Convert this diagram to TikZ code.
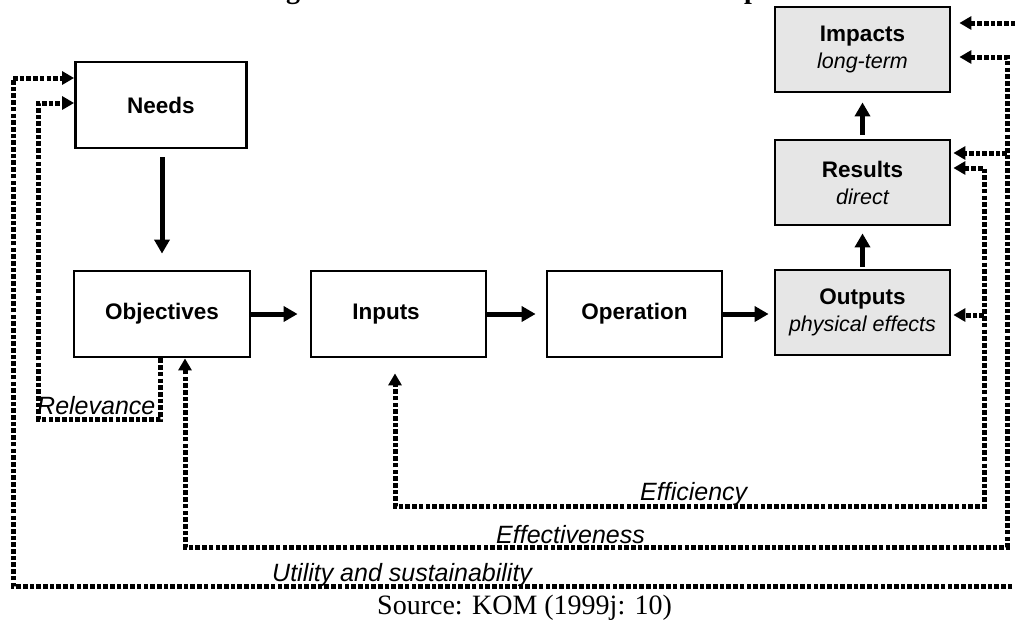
\documentclass[tikz,border=0pt]{standalone}
\usepackage{fontspec}
\setmainfont{Liberation Sans}
\newfontfamily\seriffont{Liberation Serif}
\usetikzlibrary{arrows.meta}
\definecolor{boxgray}{HTML}{E6E6E6}
\tikzset{
  box/.style={draw, line width=2.8pt, minimum width=175pt, minimum height=86pt,
    inner sep=0pt, align=center, font=\bfseries\fontsize{22.5}{27}\selectfont},
  gbox/.style={box, fill=boxgray, minimum height=85pt},
  lab/.style={inner sep=0pt, font=\itshape\fontsize{25}{30}\selectfont},
  src/.style={inner sep=0pt, font=\seriffont\fontsize{28}{30}\selectfont},
  frag/.style={inner sep=0pt, font=\seriffont\bfseries\fontsize{28}{30}\selectfont},
  solidarrow/.style={line width=5pt, -{Triangle[length=14pt,width=15pt]}},
  dotline/.style={line width=5pt, dash pattern=on 4.6pt off 2.1pt},
  dtipend/.style={-{Triangle[length=12pt,width=13pt]}},
  dtipboth/.style={{Triangle[length=12pt,width=13pt]}-{Triangle[length=12pt,width=13pt]}}
}
\newcommand{\subtxt}[1]{{\mdseries\itshape\fontsize{21.5}{25}\selectfont #1}}
\begin{document}
\begin{tikzpicture}[x=1pt,y=-1pt]
\useasboundingbox (0,0) rectangle (1015,622);

% title fragments (cut off by the page edge, as in the reference)
\node[frag, anchor=base] (tg) at (293,-2) {g};
\node[frag, anchor=base] (tp) at (752,-2) {p};

% boxes
\node[box, minimum width=171pt] (needs) at (161,105) {Needs};
\node[box, minimum width=176pt] (obj) at (162,314) {Objectives};
\node[box] (inp) at (398.5,314) {Inputs\hspace*{25pt}};
\node[box] (op) at (634.5,314) {Operation};
\node[gbox] (out) at (862.5,312.5) {Outputs\\\subtxt{physical effects}};
\node[gbox] (res) at (862.5,182.5) {Results\\\subtxt{direct}};
\node[gbox] (imp) at (862.5,49.5) {Impacts\\\subtxt{long-term}};

% solid arrows
\draw[solidarrow, shorten <=8pt, shorten >=16pt] (needs.south -| obj.north) -- (obj.north);
\draw[solidarrow, shorten >=12pt] (obj.east) -- (obj.east -| inp.west);
\draw[solidarrow, shorten >=10pt] (inp.east) -- (op.west);
\draw[solidarrow, shorten >=5pt] (op.east) -- (op.east -| out.west);
\draw[solidarrow, shorten <=2pt, shorten >=7pt] (out.north) -- (res.south);
\draw[solidarrow, shorten <=4pt, shorten >=9pt] (res.north) -- (imp.south);

% corner coordinates
\coordinate (uA) at (1035,23);
\coordinate (uB) at (1035,586);
\coordinate (uC) at (13,586);
\coordinate (uD) at (13,78);
\coordinate (eA) at (1007,57);
\coordinate (eB) at (1007,153);
\coordinate (eC) at (1007,547);
\coordinate (eD) at (185,547);
\coordinate (fA) at (984,168);
\coordinate (fB) at (984,315);
\coordinate (fC) at (984,506);
\coordinate (fD) at (395,506);
\coordinate (rA) at (160,419);
\coordinate (rB) at (38,419);
\coordinate (rC) at (38,103);

% Utility and sustainability
\draw[dotline, dtipboth, shorten <=8pt] (imp.east |- uA) -- (uA) -- (uB) -- (uC) -- (uD) -- (needs.west |- uD);
% Effectiveness
\draw[dotline, dtipboth, shorten <=8pt] (imp.east |- eA) -- (eA) -- (eC) -- (eD) -- (obj.south -| eD);
\draw[dotline, dtipend, shorten >=2pt] (eB) -- (res.east |- eB);
% Efficiency
\draw[dotline, dtipboth, shorten <=2pt, shorten >=15pt] (res.east |- fA) -- (fA) -- (fC) -- (fD) -- (inp.south -| fD);
\draw[dotline, dtipend, shorten >=2pt] (fB) -- (out.east |- fB);
% Relevance
\draw[dotline, dtipend] (obj.south -| rA) -- (rA) -- (rB) -- (rC) -- (needs.west |- rC);

% labels
\node[lab, anchor=base west] (relL) at (37,414) {Relevance};
\node[lab, anchor=base west] (effL) at (640,500) {Efficiency};
\node[lab, anchor=base west] (efvL) at (496,543) {Effectiveness};
\node[lab, anchor=base west] (utlL) at (272,581) {Utility and sustainability};
\node[src, anchor=base west] (srcL) at (377,614) {Source: KOM (1999j: 10)};
\end{tikzpicture}
\end{document}
